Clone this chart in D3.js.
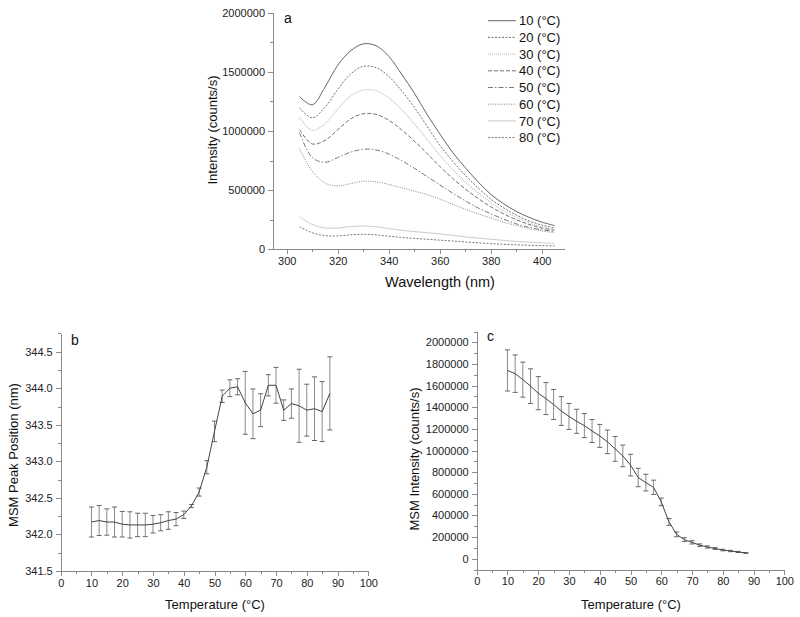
<!DOCTYPE html>
<html>
<head>
<meta charset="utf-8">
<script src="https://cdn.jsdelivr.net/npm/d3@7"></script>
<style>
  html, body { margin: 0; padding: 0; background: #fff; }
  svg { display: block; font-family: "Liberation Sans", Arial, sans-serif; }
  .axis path, .axis line { stroke: #8a8a8a; stroke-width: 1; shape-rendering: crispEdges; }
  .axis text { fill: #222; font-size: 11px; font-family: "Liberation Sans", Arial, sans-serif; }
</style>
</head>
<body>
<svg id="chart" width="800" height="617"></svg>
<script>
// ---------- Panel a: emission spectra ----------
const wavelengths = [305,310,315,320,325,330,335,340,345,350,355,360,365,370,375,380,385,390,395,400,405];
const int10 = [1290000,1220000,1370000,1555000,1675000,1735000,1720000,1630000,1480000,1320000,1140000,975000,820000,690000,570000,465000,385000,320000,270000,230000,200000];
const int20 = [1195000,1110000,1200000,1350000,1480000,1545000,1535000,1460000,1340000,1200000,1040000,880000,745000,625000,520000,425000,350000,290000,240000,205000,180000];
const int30 = [1115000,1005000,1060000,1185000,1295000,1345000,1340000,1280000,1180000,1060000,930000,795000,675000,570000,475000,395000,325000,270000,225000,190000,170000];
const int40 = [1010000,890000,920000,1010000,1100000,1145000,1140000,1090000,1010000,915000,810000,700000,600000,510000,430000,360000,300000,250000,210000,180000,160000];
const int50 = [985000,775000,735000,775000,820000,845000,840000,805000,750000,685000,615000,545000,475000,410000,350000,300000,255000,215000,185000,165000,150000];
const int60 = [850000,660000,560000,535000,555000,575000,570000,548000,520000,492000,462000,425000,380000,338000,300000,265000,230000,200000,175000,155000,140000];
const int70 = [275000,210000,180000,180000,192000,197000,190000,175000,160000,150000,140000,130000,118000,105000,95000,85000,75000,67000,60000,55000,50000];
const int80 = [190000,140000,115000,113000,122000,127000,122000,110000,100000,92000,85000,77000,70000,62000,55000,48000,42000,38000,34000,31000,30000];
const spectraLabels = ["10 (°C)","20 (°C)","30 (°C)","40 (°C)","50 (°C)","60 (°C)","70 (°C)","80 (°C)"];
const xTicksA = [300,320,340,360,380,400];
const yTicksA = [0,500000,1000000,1500000,2000000];

// ---------- Panel b: peak position ----------
const tempsB = [10,12.5,15,17.5,20,22.5,25,27.5,30,32.5,35,37.5,40,42.5,45,47.5,50,52.5,55,57.5,60,62.5,65,67.5,70,72.5,75,77.5,80,82.5,85,87.5];
const peakPos = [342.17,342.19,342.17,342.17,342.14,342.13,342.13,342.13,342.14,342.16,342.19,342.21,342.27,342.39,342.58,342.92,343.41,343.89,344.00,344.02,343.80,343.65,343.70,344.04,344.04,343.70,343.79,343.76,343.70,343.72,343.68,343.93];
const peakErr = [0.205,0.205,0.18,0.205,0.175,0.18,0.16,0.16,0.12,0.11,0.12,0.09,0.05,0.02,0.055,0.09,0.14,0.085,0.115,0.11,0.43,0.34,0.225,0.145,0.245,0.14,0.20,0.50,0.355,0.435,0.41,0.50];
const xTicksB = [0,10,20,30,40,50,60,70,80,90,100];
const yTicksB = [341.5,342.0,342.5,343.0,343.5,344.0,344.5];

// ---------- Panel c: intensity ----------
const tempsC = tempsB;
const msmInt = [1740000,1710000,1655000,1595000,1530000,1480000,1425000,1365000,1315000,1270000,1230000,1180000,1135000,1080000,1015000,950000,865000,750000,703000,660000,525000,340000,225000,176000,151000,125000,108000,94000,80000,71000,62000,53000];
const msmErr = [190000,173000,162000,160000,153000,148000,139000,133000,120000,111000,111000,106000,106000,109000,115000,100000,100000,85000,77000,66000,35000,32000,22000,18000,15000,12000,10000,8000,7000,6000,5000,4000];
const xTicksC = xTicksB;
const yTicksC = [0,200000,400000,600000,800000,1000000,1200000,1400000,1600000,1800000,2000000];

const svg = d3.select("#chart");
const FONT = '"Liberation Sans", Arial, sans-serif';

function drawAxes(x, y, xTicks, xMinor, yTicks, yMinor, yFmt) {
  const xAxisY = y.range()[0];
  const yAxisX = x.range()[0];
  svg.append("g").attr("class", "axis").attr("transform", `translate(0,${xAxisY})`)
    .call(d3.axisBottom(x).tickValues(xMinor).tickSize(3).tickFormat("").tickSizeOuter(0));
  svg.append("g").attr("class", "axis").attr("transform", `translate(0,${xAxisY})`)
    .call(d3.axisBottom(x).tickValues(xTicks).tickSize(5).tickPadding(3).tickSizeOuter(0));
  svg.append("g").attr("class", "axis").attr("transform", `translate(${yAxisX},0)`)
    .call(d3.axisLeft(y).tickValues(yMinor).tickSize(3).tickFormat("").tickSizeOuter(0));
  svg.append("g").attr("class", "axis").attr("transform", `translate(${yAxisX},0)`)
    .call(d3.axisLeft(y).tickValues(yTicks).tickSize(5).tickPadding(3).tickFormat(yFmt).tickSizeOuter(0));
}

// ===== Panel a =====
{
  const x = d3.scaleLinear().domain([294.6, 409]).range([273, 564.7]);
  const y = d3.scaleLinear().domain([0, 2000000]).range([249.3, 12.5]);
  drawAxes(x, y, xTicksA, d3.range(300, 410, 10), yTicksA, d3.range(0, 2000001, 250000), d3.format("d"));

  const series = [int10,int20,int30,int40,int50,int60,int70,int80];
  const styles = [
    {c:"#555", d:null, w:0.9},
    {c:"#606060", d:"2,1.5", w:0.9},
    {c:"#c6c6c6", d:"1,1", w:1.3},
    {c:"#606060", d:"4,2", w:0.9},
    {c:"#6a6a6a", d:"5,2,1.5,2", w:0.9},
    {c:"#7a7a7a", d:"1,1.3", w:0.9},
    {c:"#cccccc", d:null, w:1},
    {c:"#6a6a6a", d:"2,1.5", w:0.9}
  ];
  const line = d3.line().x((d,i) => x(wavelengths[i])).y(d => y(d)).curve(d3.curveCatmullRom.alpha(0.5));
  series.forEach((s, i) => {
    svg.append("path").attr("d", line(s)).attr("fill", "none")
      .attr("stroke", styles[i].c).attr("stroke-width", styles[i].w)
      .attr("stroke-dasharray", styles[i].d);
  });
  // legend
  const leg = svg.append("g");
  spectraLabels.forEach((lab, i) => {
    const cy = 20.7 + i * 16.7;
    leg.append("line").attr("x1", 488).attr("x2", 516).attr("y1", cy).attr("y2", cy)
      .attr("stroke", styles[i].c).attr("stroke-width", styles[i].w).attr("stroke-dasharray", styles[i].d);
    leg.append("text").attr("x", 519).attr("y", cy + 4.6).text(lab)
      .attr("font-size", 13).attr("font-family", FONT).attr("fill", "#111");
  });
  svg.append("text").attr("x", 284).attr("y", 23).text("a").attr("font-size", 14).attr("font-family", FONT).attr("fill", "#111");
  svg.append("text").attr("transform", "translate(217,130) rotate(-90)").attr("text-anchor", "middle")
    .text("Intensity (counts/s)").attr("font-size", 13).attr("font-family", FONT).attr("fill", "#111");
  svg.append("text").attr("x", 440).attr("y", 287).attr("text-anchor", "middle")
    .text("Wavelength (nm)").attr("font-size", 14.5).attr("font-family", FONT).attr("fill", "#111");
}

function errPanel(x, y, temps, vals, errs) {
  const g = svg.append("g");
  temps.forEach((t, i) => {
    const cx = x(t), y1 = y(vals[i] + errs[i]), y2 = y(vals[i] - errs[i]);
    g.append("line").attr("x1", cx).attr("x2", cx).attr("y1", y1).attr("y2", y2).attr("stroke", "#8a8a8a").attr("stroke-width", 1);
    g.append("line").attr("x1", cx - 2.5).attr("x2", cx + 2.5).attr("y1", y1).attr("y2", y1).attr("stroke", "#666").attr("stroke-width", 1);
    g.append("line").attr("x1", cx - 2.5).attr("x2", cx + 2.5).attr("y1", y2).attr("y2", y2).attr("stroke", "#666").attr("stroke-width", 1);
  });
  const line = d3.line().x((d, i) => x(temps[i])).y(d => y(d));
  g.append("path").attr("d", line(vals)).attr("fill", "none").attr("stroke", "#444").attr("stroke-width", 1);
}

// ===== Panel b =====
{
  const x = d3.scaleLinear().domain([0, 100]).range([60.7, 368.3]);
  const y = d3.scaleLinear().domain([341.5, 344.75]).range([571, 333.4]);
  drawAxes(x, y, xTicksB, d3.range(0, 101, 5), yTicksB, d3.range(341.5, 344.76, 0.25), d3.format(".1f"));
  errPanel(x, y, tempsB, peakPos, peakErr);
  svg.append("text").attr("x", 71).attr("y", 345).text("b").attr("font-size", 14).attr("font-family", FONT).attr("fill", "#111");
  svg.append("text").attr("transform", "translate(18,455) rotate(-90)").attr("text-anchor", "middle")
    .text("MSM Peak Position (nm)").attr("font-size", 13).attr("font-family", FONT).attr("fill", "#111");
  svg.append("text").attr("x", 215).attr("y", 609).attr("text-anchor", "middle")
    .text("Temperature (°C)").attr("font-size", 13).attr("font-family", FONT).attr("fill", "#111");
}

// ===== Panel c =====
{
  const x = d3.scaleLinear().domain([0, 100]).range([476.7, 784.3]);
  const y = d3.scaleLinear().domain([-100000, 2100000]).range([569.5, 331.5]);
  drawAxes(x, y, xTicksC, d3.range(0, 101, 5), yTicksC, d3.range(-100000, 2100001, 100000), d3.format("d"));
  errPanel(x, y, tempsC, msmInt, msmErr);
  svg.append("text").attr("x", 487).attr("y", 341).text("c").attr("font-size", 14).attr("font-family", FONT).attr("fill", "#111");
  svg.append("text").attr("transform", "translate(419,459) rotate(-90)").attr("text-anchor", "middle")
    .text("MSM Intensity (counts/s)").attr("font-size", 13).attr("font-family", FONT).attr("fill", "#111");
  svg.append("text").attr("x", 631).attr("y", 609).attr("text-anchor", "middle")
    .text("Temperature (°C)").attr("font-size", 13).attr("font-family", FONT).attr("fill", "#111");
}
</script>
</body>
</html>
